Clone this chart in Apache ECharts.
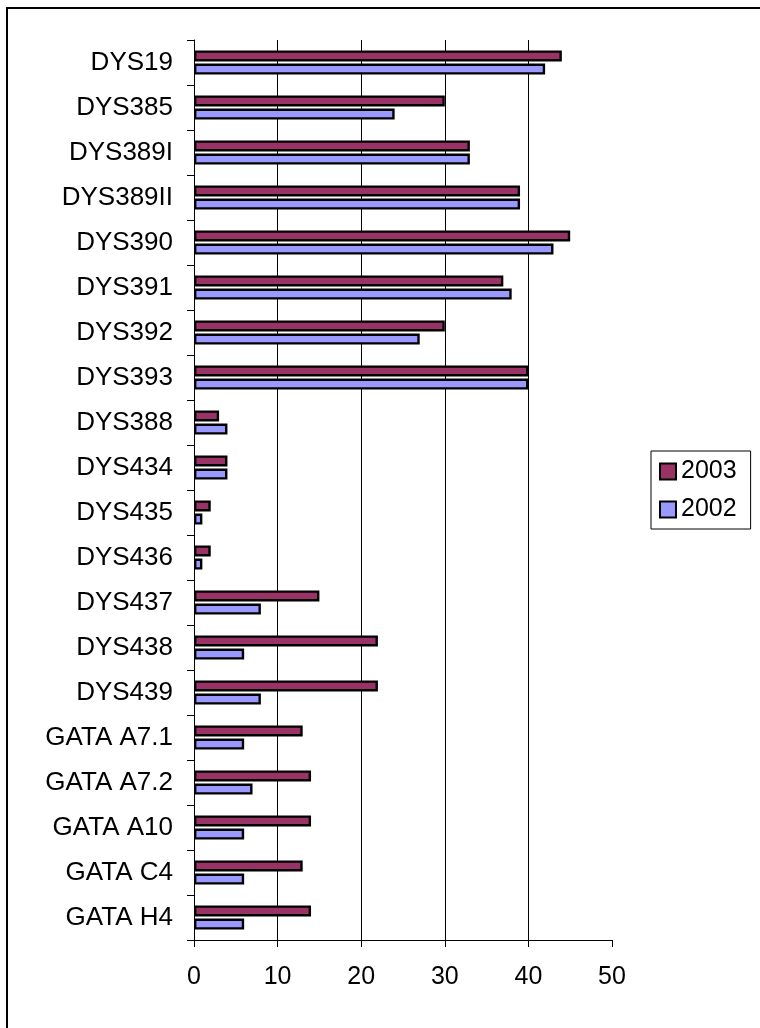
<!DOCTYPE html>
<html>
<head>
<meta charset="utf-8">
<script src="https://cdn.jsdelivr.net/npm/echarts@6/dist/echarts.min.js"></script>
<style>
  html, body { margin: 0; padding: 0; background: #fff; }
  #chart { width: 760px; height: 1028px; }
</style>
</head>
<body>
<div id="chart"></div>
<script>
// Y-STR markers, listed top to bottom
const markers = [
  'DYS19', 'DYS385', 'DYS389I', 'DYS389II', 'DYS390', 'DYS391', 'DYS392',
  'DYS393', 'DYS388', 'DYS434', 'DYS435', 'DYS436', 'DYS437', 'DYS438',
  'DYS439', 'GATA A7.1', 'GATA A7.2', 'GATA A10', 'GATA C4', 'GATA H4'
];
const seriesNames = ['2003', '2002'];
const values2003 = [44, 30, 33, 39, 45, 37, 30, 40, 3, 4, 2, 2, 15, 22, 22, 13, 14, 14, 13, 14];
const values2002 = [42, 24, 33, 39, 43, 38, 27, 40, 4, 4, 1, 1, 8, 6, 8, 6, 7, 6, 6, 6];
const xTicks = { min: 0, max: 50, interval: 10 };

const FONT = '"Liberation Sans", Arial, sans-serif';
const chart = echarts.init(document.getElementById('chart'), null, { renderer: 'canvas' });

function barSeries(name, data, color) {
  return {
    name: name,
    type: 'bar',
    data: data,
    barWidth: 11,
    barGap: '20%',
    itemStyle: { color: color, borderColor: '#000', borderWidth: 2.4 },
    emphasis: { disabled: true },
    animation: false
  };
}

chart.setOption({
  backgroundColor: '#fff',
  animation: false,
  textStyle: { fontFamily: FONT },
  graphic: [{
    type: 'rect',
    shape: { x: 7, y: 8, width: 800, height: 1100 },
    style: { fill: 'none', stroke: '#000', lineWidth: 2 },
    silent: true
  }],
  grid: { left: 194, right: 148, top: 40, bottom: 88, containLabel: false },
  legend: {
    orient: 'vertical',
    left: 651,
    top: 451,
    padding: [8, 14, 7, 8],
    itemGap: 13,
    itemWidth: 16,
    itemHeight: 16,
    borderColor: '#000',
    borderWidth: 1,
    icon: 'rect',
    selectedMode: false,
    textStyle: { fontFamily: FONT, fontSize: 25, color: '#000' },
    data: seriesNames
  },
  xAxis: {
    type: 'value',
    min: xTicks.min,
    max: xTicks.max,
    interval: xTicks.interval,
    axisLine: { show: true, lineStyle: { color: '#000', width: 1 } },
    axisTick: { show: true, inside: false, length: 7, lineStyle: { color: '#000' } },
    axisLabel: { fontFamily: FONT, fontSize: 25, color: '#000', margin: 25 },
    splitLine: { show: true, showMinLine: false, showMaxLine: false, lineStyle: { color: '#000', width: 1 } }
  },
  yAxis: {
    type: 'category',
    data: markers,
    inverse: true,
    axisLine: { show: true, lineStyle: { color: '#000', width: 1 } },
    axisTick: { show: true, inside: false, length: 7, lineStyle: { color: '#000' } },
    axisLabel: { fontFamily: FONT, fontSize: 26, color: '#000', margin: 21 },
    splitLine: { show: false }
  },
  series: [
    barSeries(seriesNames[0], values2003, '#993366'),
    barSeries(seriesNames[1], values2002, '#9999FF')
  ]
});
</script>
</body>
</html>
